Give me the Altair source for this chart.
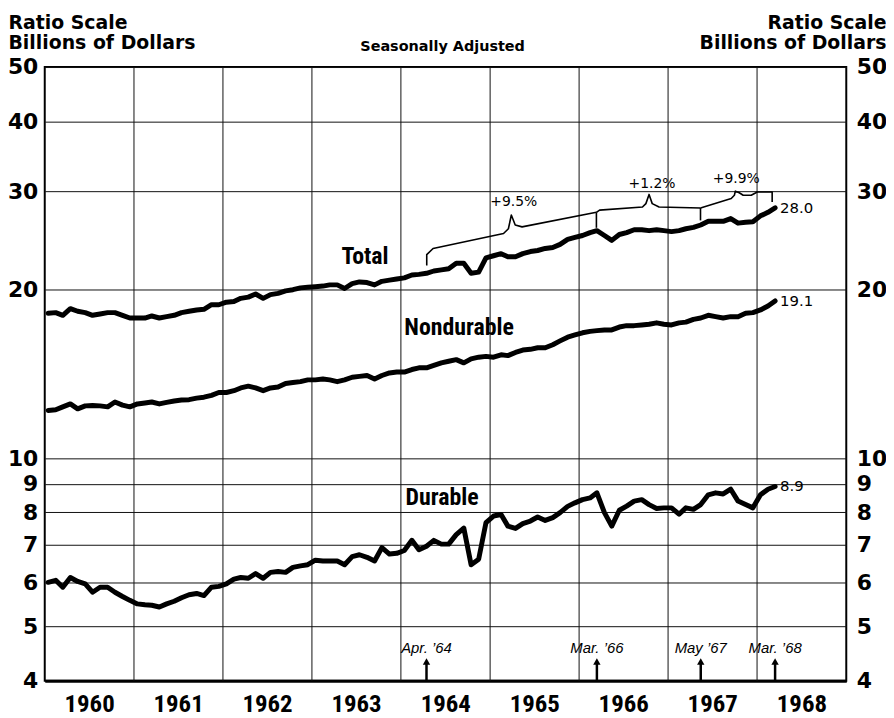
import altair as alt
import pandas as pd

years = list(range(1960, 1969))
y_ticks = [4, 5, 6, 7, 8, 9, 10, 20, 30, 40, 50]

total = [18.15, 18.2, 18.0, 18.5, 18.3, 18.2, 18.0, 18.1, 18.2, 18.2, 18.0, 17.8,
         17.8, 17.8, 17.95, 17.8, 17.9, 18.0, 18.2, 18.3, 18.4, 18.45, 18.8, 18.8,
         19.0, 19.05, 19.3, 19.4, 19.65, 19.3, 19.6, 19.7, 19.9, 20.0, 20.15, 20.2,
         20.25, 20.3, 20.4, 20.4, 20.1, 20.5, 20.65, 20.6, 20.4, 20.7, 20.8, 20.9,
         21.0, 21.25, 21.3, 21.4, 21.6, 21.7, 21.8, 22.3, 22.3, 21.4, 21.5, 22.8,
         23.0, 23.2, 22.9, 22.9, 23.2, 23.4, 23.5, 23.7, 23.8, 24.1, 24.6, 24.8,
         25.0, 25.3, 25.5, 25.0, 24.5, 25.1, 25.3, 25.6, 25.6, 25.5, 25.6, 25.5,
         25.4, 25.5, 25.7, 25.85, 26.1, 26.5, 26.5, 26.5, 26.8, 26.3, 26.4, 26.45,
         27.1, 27.5, 28.0]
nondurable = [12.17, 12.2, 12.35, 12.5, 12.25, 12.4, 12.42, 12.4, 12.35, 12.6, 12.44, 12.35,
              12.5, 12.55, 12.6, 12.5, 12.58, 12.65, 12.7, 12.72, 12.8, 12.85, 12.95, 13.1,
              13.1, 13.2, 13.35, 13.45, 13.35, 13.2, 13.35, 13.4, 13.6, 13.65, 13.7, 13.8,
              13.8, 13.85, 13.8, 13.7, 13.8, 13.95, 14.0, 14.05, 13.85, 14.05, 14.2, 14.25,
              14.25, 14.4, 14.5, 14.5, 14.65, 14.8, 14.9, 15.0, 14.8, 15.05, 15.15, 15.2,
              15.15, 15.3, 15.25, 15.45, 15.6, 15.65, 15.75, 15.75, 15.95, 16.2, 16.45, 16.6,
              16.75, 16.85, 16.9, 16.95, 16.95, 17.15, 17.25, 17.25, 17.3, 17.35, 17.45, 17.35,
              17.3, 17.45, 17.5, 17.7, 17.8, 18.0, 17.9, 17.8, 17.9, 17.9, 18.15, 18.2,
              18.4, 18.7, 19.1]
durable = [6.0, 6.05, 5.88, 6.12, 6.02, 5.96, 5.76, 5.88, 5.88, 5.76, 5.66, 5.57,
           5.49, 5.47, 5.46, 5.42, 5.49, 5.55, 5.63, 5.70, 5.73, 5.68, 5.88, 5.9,
           5.96, 6.08, 6.12, 6.1, 6.22, 6.1, 6.25, 6.27, 6.25, 6.38, 6.42, 6.45,
           6.57, 6.55, 6.55, 6.55, 6.45, 6.67, 6.72, 6.65, 6.55, 6.92, 6.74, 6.76,
           6.84, 7.13, 6.86, 6.96, 7.13, 7.02, 7.02, 7.3, 7.5, 6.45, 6.6, 7.67,
           7.88, 7.93, 7.56, 7.49, 7.64, 7.72, 7.85, 7.74, 7.83, 7.99, 8.2, 8.32,
           8.43, 8.49, 8.67, 7.99, 7.56, 8.07, 8.21, 8.38, 8.43, 8.26, 8.13, 8.15,
           8.15, 7.94, 8.15, 8.10, 8.26, 8.6, 8.67, 8.63, 8.8, 8.38, 8.26, 8.15,
           8.6, 8.8, 8.9]

series_names = ["Total", "Nondurable", "Durable"]
series_values = [total, nondurable, durable]
end_labels = ["28.0", "19.1", "8.9"]

label_dates = ["1963-08-07", "1964-08-27", "1964-06-18"]
label_values = [22.9, 17.06, 8.49]

brace_dates = [
    "1964-04-16", "1964-04-16", "1964-05-12", "1965-02-25", "1965-03-17", "1965-03-29",
    "1965-04-14", "1965-05-12", "1966-03-13",
    "1966-03-13", "1966-03-13",
    "1966-03-13", "1966-03-26", "1966-09-18", "1966-10-02", "1966-10-15", "1966-10-28",
    "1966-11-25", "1967-05-14",
    "1967-05-14", "1967-05-14",
    "1967-05-14", "1967-09-17", "1967-09-30", "1967-10-04", "1967-10-20", "1967-11-05",
    "1967-12-08", "1968-01-02", "1968-03-03", "1968-03-03",
]
brace_values = [
    22.1, 23.1, 23.7, 25.2, 25.7, 27.2, 26.1, 25.9, 27.5,
    27.5, 25.8,
    27.5, 27.75, 28.1, 28.5, 29.6, 28.5, 28.1, 28.0,
    28.0, 26.6,
    28.0, 29.1, 29.5, 30.0, 29.8, 29.5, 29.5, 29.9, 29.9, 28.7,
]
brace_groups = [1] * 9 + [2] * 2 + [3] * 8 + [4] * 2 + [5] * 10

pct_labels = ["+9.5%", "+1.2%", "+9.9%"]
pct_dates = ["1965-04-08", "1966-10-27", "1967-10-08"]
pct_values = [28.7, 30.9, 31.6]

arrow_labels = ["Apr. \u201964", "Mar. \u201966", "May \u201967", "Mar. \u201968"]
arrow_dates = ["1964-04-15", "1966-03-15", "1967-05-15", "1968-03-15"]

# ---------------- tables ----------------
n = len(total)
month_dates = [f"{1960 + i // 12}-{i % 12 + 1:02d}-15" for i in range(n)]
rows = []
for name, vals in zip(series_names, series_values):
    for d, v in zip(month_dates, vals):
        rows.append({"date": d, "value": v, "series": name})
series_df = pd.DataFrame(rows)

end_df = pd.DataFrame({
    "date": [month_dates[-1]] * 3,
    "value": [vals[-1] for vals in series_values],
    "label": end_labels,
})
name_df = pd.DataFrame({"date": label_dates, "value": label_values, "label": series_names})
brace_df = pd.DataFrame({
    "date": brace_dates, "value": brace_values, "grp": brace_groups,
    "ord": list(range(len(brace_dates))),
})
pct_df = pd.DataFrame({"date": pct_dates, "value": pct_values, "label": pct_labels})
arrow_df = pd.DataFrame({"date": arrow_dates, "label": arrow_labels,
                         "lo": [4.0] * 4, "hi": [4.3] * 4, "head": [4.33] * 4, "ly": [4.49] * 4})
vgrid_df = pd.DataFrame({"date": [f"{y}-01-01" for y in years[1:]]})
sub_df = pd.DataFrame({"date": ["1964-06-20"], "value": [53.4], "label": ["Seasonally Adjusted"]})

NARROW = "Roboto Condensed, Roboto, sans-serif"
GEO = "DejaVu Sans"

x_axis = alt.Axis(values=[alt.DateTime(year=y, month=7, date=1) for y in years],
                  format="%Y", grid=False, ticks=False, tickSize=0, domain=True,
                  domainColor="black", domainWidth=3, labelFont=NARROW,
                  labelFontSize=25, labelFontWeight="bold", labelColor="black",
                  labelPadding=11, labelOverlap=False, labelFlush=False)


def X():
    return alt.X("date:T", title=None, axis=x_axis,
                 scale=alt.Scale(domain=[alt.DateTime(year=1960, month=1, date=1),
                                         alt.DateTime(year=1969, month=1, date=1)]))


yscale = alt.Scale(type="log", domain=[4, 50], nice=False)

left_axis = alt.Axis(orient="left", values=y_ticks, format="d", grid=True,
                     gridColor="#111", gridWidth=1, ticks=False, tickSize=0, domain=False,
                     labelFont=GEO, labelFontSize=22, labelFontWeight="bold",
                     labelColor="black", labelPadding=7, labelOverlap=False, labelFlush=False,
                     title=["Ratio Scale", "Billions of Dollars"], titleAngle=0,
                     titleAlign="left", titleBaseline="top", titleX=-37, titleY=-54,
                     titleFont=GEO, titleFontSize=19, titleFontWeight="bold",
                     titleColor="black", titleLineHeight=20)
right_axis = alt.Axis(orient="right", values=y_ticks, format="d", grid=False,
                      ticks=False, tickSize=0, domain=False,
                      labelFont=GEO, labelFontSize=22, labelFontWeight="bold",
                      labelColor="black", labelPadding=10, labelOverlap=False, labelFlush=False,
                      title=["Ratio Scale", "Billions of Dollars"], titleAngle=0,
                      titleAlign="right", titleBaseline="top", titleX=40, titleY=-54,
                      titleFont=GEO, titleFontSize=19, titleFontWeight="bold",
                      titleColor="black", titleLineHeight=20)


def Y(field="value", axis=None):
    if axis is None:
        return alt.Y(f"{field}:Q", scale=yscale, axis=None, title=None)
    return alt.Y(f"{field}:Q", scale=yscale, axis=axis, title=None)


vgrid = alt.Chart(vgrid_df).mark_rule(color="#111", strokeWidth=1).encode(x=X())

lines = alt.Chart(series_df).mark_line(color="black", strokeWidth=5, strokeJoin="round",
                                       strokeCap="round").encode(
    x=X(), y=Y(axis=left_axis), detail="series:N")

braces = alt.Chart(brace_df).mark_line(color="black", strokeWidth=1.6, strokeJoin="round").encode(
    x=X(), y=Y(), detail="grp:N", order="ord:Q")

shafts = alt.Chart(arrow_df).mark_rule(color="black", strokeWidth=2.5).encode(
    x=X(), y=Y("lo"), y2="hi:Q")
heads = alt.Chart(arrow_df).mark_point(shape="triangle-up", filled=True, color="black",
                                       size=55, opacity=1).encode(x=X(), y=Y("head"))
arrow_text = alt.Chart(arrow_df).mark_text(font="Liberation Sans", fontSize=15,
                                           fontStyle="italic", color="black",
                                           baseline="alphabetic").encode(
    x=X(), y=Y("ly"), text="label:N")

end_text = alt.Chart(end_df).mark_text(font=GEO, fontSize=15, color="black", align="left",
                                       baseline="middle", dx=5).encode(
    x=X(), y=Y(axis=right_axis), text="label:N")

name_text = alt.Chart(name_df).mark_text(font=NARROW, fontSize=24, fontWeight="bold",
                                         color="black", baseline="middle").encode(
    x=X(), y=Y(), text="label:N")

pct_text = alt.Chart(pct_df).mark_text(font=GEO, fontSize=14, color="black",
                                       baseline="middle").encode(
    x=X(), y=Y(), text="label:N")

sub_text = alt.Chart(sub_df).mark_text(font=GEO, fontSize=14.5, fontWeight="bold",
                                       color="black", baseline="alphabetic").encode(
    x=X(), y=Y(), text="label:N")

chart = alt.layer(vgrid, lines, braces, shafts, heads, arrow_text, end_text, name_text,
                  pct_text, sub_text).resolve_axis(y="independent").properties(
    width=807, height=618,
    padding={"left": 37, "top": 57, "right": 40, "bottom": 35},
    autosize=alt.AutoSizeParams(type="none"),
    background="white",
).configure_view(stroke="black", strokeWidth=2)

chart.save("out.html", embed_options={"renderer": "svg", "actions": False})
